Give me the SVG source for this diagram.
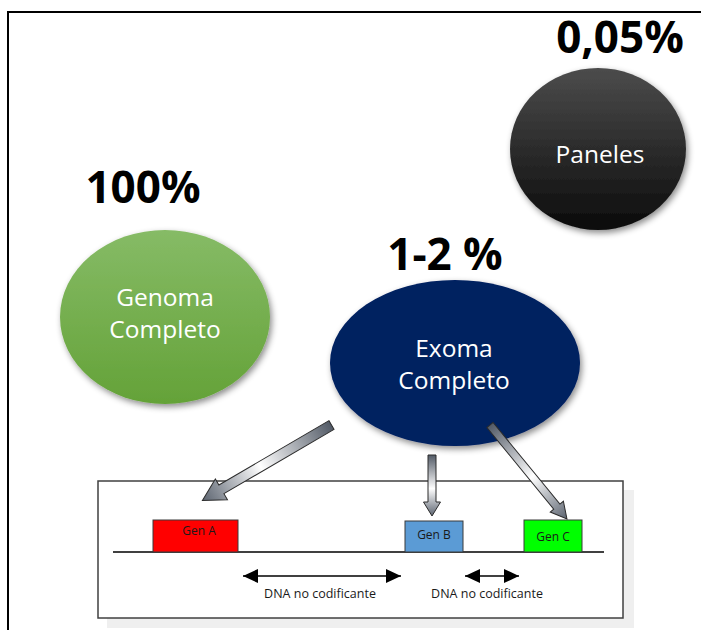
<svg xmlns="http://www.w3.org/2000/svg" width="701" height="630" viewBox="0 0 701 630">
  <defs>
    <style>
      .pct { font-family: "Open Sans", "Liberation Sans", sans-serif; font-weight: 700; font-size: 44px; fill: #000; text-anchor: middle; }
      .node-label { font-family: "Open Sans", "Liberation Sans", sans-serif; font-size: 24.5px; fill: #fff; text-anchor: middle; }
      .gen-label { font-family: "Open Sans", "Liberation Sans", sans-serif; font-size: 12px; fill: #1a1a1a; text-anchor: middle; }
      .dna-label { font-family: "Open Sans", "Liberation Sans", sans-serif; font-size: 12.5px; fill: #1a1a1a; text-anchor: middle; }
      .gen-box { stroke: #3a3a3a; stroke-width: 1; }
      .block-arrow { fill: url(#arrowGrad); stroke: #2b2b2b; stroke-width: 1; stroke-linejoin: miter; }
      .span { stroke: #000; stroke-width: 1.6; fill: none; marker-start: url(#headStart); marker-end: url(#headEnd); }
    </style>
    <linearGradient id="greenGrad" x1="0" y1="0" x2="0" y2="1">
      <stop offset="0" stop-color="#86bb66"/>
      <stop offset="1" stop-color="#64a238"/>
    </linearGradient>
    <linearGradient id="blackGrad" x1="0" y1="0" x2="0" y2="1">
      <stop offset="0" stop-color="#4c4c4c"/>
      <stop offset="1" stop-color="#0b0b0b"/>
    </linearGradient>
    <linearGradient id="arrowGrad" x1="0" y1="0" x2="1" y2="0">
      <stop offset="0" stop-color="#525a66"/>
      <stop offset="0.55" stop-color="#ffffff"/>
      <stop offset="1" stop-color="#5c6470"/>
    </linearGradient>
    <filter id="softShadow" x="-20%" y="-20%" width="140%" height="140%">
      <feDropShadow dx="2" dy="3" stdDeviation="3" flood-color="#000" flood-opacity="0.45"/>
    </filter>
    <marker id="headEnd" markerWidth="16" markerHeight="14" refX="15" refY="7" orient="auto" markerUnits="userSpaceOnUse">
      <path d="M0,0 L15,7 L0,14 Z" fill="#000"/>
    </marker>
    <marker id="headStart" markerWidth="16" markerHeight="14" refX="0" refY="7" orient="auto" markerUnits="userSpaceOnUse">
      <path d="M15,0 L0,7 L15,14 Z" fill="#000"/>
    </marker>
  </defs>

  <rect width="701" height="630" fill="#fff"/>

  <!-- outer frame (top and left edges) -->
  <path d="M8,630 L8,12 L701,12" fill="none" stroke="#000" stroke-width="2"/>

  <!-- gene strip panel -->
  <g id="gene-panel">
    <rect x="107" y="490" width="527" height="138" fill="#efefef"/>
    <rect x="98" y="481" width="525" height="137" fill="#fff" stroke="#404040" stroke-width="1.5"/>
    <line x1="113" y1="552" x2="604" y2="552" stroke="#000" stroke-width="1.5"/>
  </g>

  <g id="gen-a">
    <rect class="gen-box" x="153" y="520" width="85" height="32" fill="#ff0000"/>
    <text class="gen-label" x="199" y="535">Gen A</text>
  </g>
  <g id="gen-b">
    <rect class="gen-box" x="405" y="521" width="58" height="31" fill="#5b9bd5"/>
    <text class="gen-label" x="434" y="539">Gen B</text>
  </g>
  <g id="gen-c">
    <rect class="gen-box" x="524" y="520" width="58" height="32" fill="#00ff00"/>
    <text class="gen-label" x="553" y="541">Gen C</text>
  </g>

  <!-- non-coding spans -->
  <g id="noncoding">
    <line class="span" x1="243" y1="576" x2="401" y2="576"/>
    <line class="span" x1="465" y1="576" x2="519" y2="576"/>
    <text class="dna-label" x="320" y="598">DNA no codificante</text>
    <text class="dna-label" x="487" y="598">DNA no codificante</text>
  </g>

  <!-- whole genome -->
  <g id="genoma">
    <text class="pct" x="143" y="203">100%</text>
    <ellipse cx="165" cy="317" rx="105" ry="87" fill="url(#greenGrad)" filter="url(#softShadow)"/>
    <text class="node-label" x="165" y="306">Genoma</text>
    <text class="node-label" x="165" y="338">Completo</text>
  </g>

  <!-- panels -->
  <g id="paneles">
    <text class="pct" x="620" y="53">0,05%</text>
    <ellipse cx="598" cy="149" rx="88" ry="81" fill="url(#blackGrad)" filter="url(#softShadow)"/>
    <text class="node-label" x="600" y="163">Paneles</text>
  </g>

  <!-- exome -->
  <g id="exoma">
    <text class="pct" x="445" y="270">1-2 %</text>
    <ellipse cx="455" cy="363" rx="125" ry="83" fill="#022060" filter="url(#softShadow)"/>
    <text class="node-label" x="454" y="357">Exoma</text>
    <text class="node-label" x="454" y="389">Completo</text>
  </g>

  <!-- block arrows from the exome to each gene -->
  <g id="connectors">
    <path class="block-arrow" transform="translate(331.5,425) rotate(149.7)" d="M0,-5 L127.5,-5 L127.5,-12 L149.5,0 L127.5,12 L127.5,5 L0,5 Z"/>
    <path class="block-arrow" transform="translate(432,455) rotate(90)" d="M0,-4 L47,-4 L47,-8.5 L61,0 L47,8.5 L47,4 L0,4 Z"/>
    <path class="block-arrow" transform="translate(490,425) rotate(50.7)" d="M0,-4 L105.5,-4 L105.5,-8.5 L121.5,0 L105.5,8.5 L105.5,4 L0,4 Z"/>
  </g>
</svg>
